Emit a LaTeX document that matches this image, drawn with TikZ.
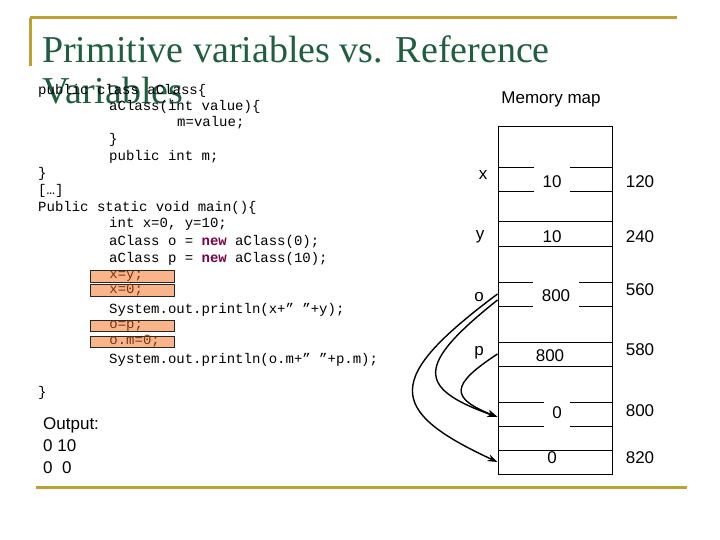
\documentclass[tikz,border=0pt]{standalone}
\usepackage{fontspec}
\setmainfont{Liberation Serif}
\setsansfont{Liberation Sans}
\setmonofont{Liberation Mono}
\usepackage{tikz}
\usetikzlibrary{arrows.meta,positioning,calc}
\definecolor{titlegreen}{HTML}{1F5F3F}
\definecolor{gold}{HTML}{C0A030}
\definecolor{salmon}{HTML}{FAB48A}
\definecolor{hltext}{HTML}{7A3410}
\definecolor{keyword}{HTML}{7F0040}
\tikzset{
  >={Stealth[length=10pt,width=7pt]},
  frameline/.style={draw=gold,line width=3pt},
  title/.style={font=\fontsize{38}{41}\selectfont,text=titlegreen,align=left,inner sep=0pt,anchor=base west},
  code/.style={font=\fontsize{14}{16}\ttfamily,inner sep=0pt,anchor=base west},
  hl/.style={code,fill=salmon,draw=black!85,line width=0.8pt,text=hltext,inner xsep=19pt,text width=46pt,align=left,text height=7.6pt,text depth=2.4pt,inner ysep=0.8pt,anchor=west},
  sans/.style={font=\fontsize{17}{22}\sffamily,inner sep=0pt},
  memcol/.style={draw,line width=1pt,minimum width=114pt,minimum height=347pt,inner sep=0pt},
  cell/.style={draw,line width=1pt,minimum width=114pt,minimum height=24pt,inner sep=0pt},
  val/.style={sans},
  gapval/.style={sans,fill=white,inner xsep=8.5pt,minimum height=30pt},
  ptr/.style={->,line width=1.4pt}
}
\newcommand{\kwnew}{\textcolor{keyword}{\textbf{new}}}

\begin{document}
\begin{tikzpicture}[x=1pt,y=-1pt]
  \useasboundingbox[fill=white] (0,0) rectangle (720,540);

  % slide frame
  \draw[frameline] (30,18) -- (677,18);
  \draw[frameline] (30,18) -- (30,66);
  \draw[frameline] (36,487) -- (687,487);

  \node[title] (title) at (42,104) {Primitive variables vs. Reference\\Variables};

  % code
  \node[code] (c1) at (38,94.7) {public class aClass\{};
  \node[code] (c2) at (109,110.7) {aClass(int value)\{};
  \node[code] (c3) at (177,127) {m=value;};
  \node[code] (c4) at (109,144) {\}};
  \node[code] (c5) at (109,161) {public int m;};
  \node[code] (c6) at (38,178) {\}};
  \node[code] (c7) at (38,194.7) {[…]};
  \node[code] (c8) at (38,211.7) {Public static void main()\{};
  \node[code] (c9) at (109,228) {int x=0, y=10;};
  \node[code] (c10) at (109,245) {aClass o = \kwnew{} aClass(0);};
  \node[code] (c11) at (109,262) {aClass p = \kwnew{} aClass(10);};
  \node[hl] (c12) at (90,276.2) {x=y;};
  \node[hl] (c13) at (90,290.5) {x=0;};
  \node[code] (c14) at (109,313) {System.out.println(x+” ”+y);};
  \node[hl] (c15) at (90,326) {o=p;};
  \node[hl] (c16) at (90,342) {o.m=0;};
  \node[code] (c17) at (109,363) {System.out.println(o.m+” ”+p.m);};
  \node[code] (c18) at (38,396) {\}};

  \node[sans,anchor=base west,align=left] (output) at (43,473) {Output:\\0 10\\0\ \ 0};

  % memory map
  \node[sans] (maptitle) at (551,99) {Memory map};
  \node[memcol] (mem) at (555,300.5) {};
  \node[cell] (cellx) at (555,180) {};
  \node[cell] (celly) at (555,234) {};
  \node[cell] (cello) at (555,294) {};
  \node[cell] (cellp) at (555,354) {};
  \node[cell] (heapa) at (555,414) {};
  \node[cell] (heapb) at (555,462) {};

  \node[gapval] (vx) at (552,182) {10};
  \node[val] (vy) at (552,237) {10};
  \node[gapval] (vo) at (556,296) {800};
  \node[val] (vp) at (550,356) {800};
  \node[gapval] (va) at (557,413) {0};
  \node[val] (vb) at (552,458) {0};

  \node[sans] (nx) at (483,175) {x};
  \node[sans] (ny) at (480,237) {y};
  \node[sans] (no) at (479,297) {o};
  \node[sans] (np) at (479,353) {p};

  \node[sans] (ax) at (640,182) {120};
  \node[sans] (ay) at (640,237) {240};
  \node[sans] (ao) at (640,290) {560};
  \node[sans] (ap) at (640,350) {580};
  \node[sans] (aa) at (640,411) {800};
  \node[sans] (ab) at (640,458) {820};

  % references
  \draw[ptr] (cello.west) .. controls (385,378) and (385,410) .. (heapb.west);
  \draw[ptr] ($(cello.west)+(0,6)$) .. controls (416,365) and (416,388) .. ($(heapa.west)+(0,3)$);
  \draw[ptr] (cellp.west) .. controls (450,385) and (450,398) .. ($(heapa.west)+(0,3)$);
\end{tikzpicture}
\end{document}
